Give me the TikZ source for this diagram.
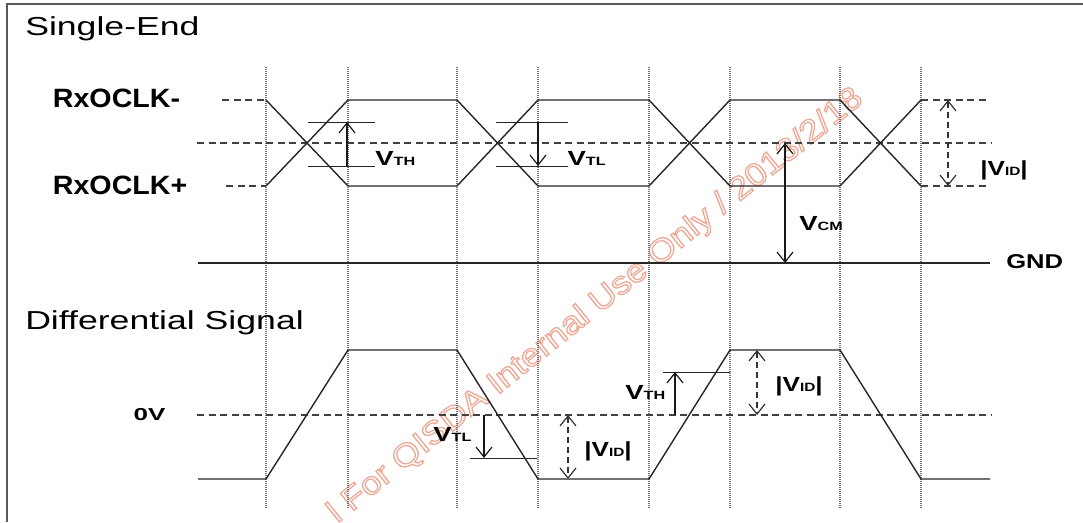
\documentclass[tikz,border=0pt]{standalone}
\usepackage{fontspec}
\setmainfont{Liberation Sans}
\usetikzlibrary{arrows.meta}
\definecolor{wmc}{RGB}{236,168,148}
\newcommand\Vsub[1]{{\fontsize{20.4}{20}\selectfont V}{\fontsize{12}{12}\selectfont #1}}
\newcommand\Vidlab{{\fontsize{20.4}{20}\selectfont |V}{\fontsize{12}{12}\selectfont ID}{\fontsize{20.4}{20}\selectfont |}}
\tikzset{
  sig/.style={line width=1.4pt, draw=black!85, line join=round},
  dsh/.style={line width=1.1pt, draw=black!75, dash pattern=on 7pt off 4.5pt},
  vgrid/.style={line width=1.1pt, draw=black!55, dash pattern=on 1pt off 1pt},
  thr/.style={line width=1pt, draw=black!85},
  arr/.style={line width=1.3pt, draw=black!90, -{Straight Barb[length=10pt,width=16pt,line width=1.2pt]}},
  darr/.style={line width=1.3pt, draw=black!80, dash pattern=on 6pt off 4pt,
    {Straight Barb[length=10pt,width=16pt,line width=1.2pt]}-{Straight Barb[length=10pt,width=16pt,line width=1.2pt]}},
  sarr/.style={line width=1.3pt, draw=black!90,
    {Straight Barb[length=10pt,width=16pt,line width=1.2pt]}-{Straight Barb[length=10pt,width=16pt,line width=1.2pt]}},
  head/.style={inner sep=0pt, anchor=base west, font=\fontsize{26}{26}\selectfont, xscale=1.37},
  blab/.style={inner sep=0pt, anchor=base west, font=\bfseries\fontsize{26.5}{26.5}\selectfont, xscale=1.08},
  vlab/.style={inner sep=0pt, anchor=base west, font=\bfseries, xscale=1.35},
  wm/.style={inner sep=0pt, anchor=center, text=wmc, font=\fontsize{32}{32}\selectfont, rotate=38.7, xscale=1.13},
}
\begin{document}
\begin{tikzpicture}[x=1pt,y=-1pt]
\useasboundingbox (0,0) rectangle (1083,522);
% watermark (behind the drawing)
\node[wm] (wmark) at (596,306) {\special{pdf:literal direct 1 Tr 1.2 w}l For QISDA Internal Use Only / 2013/2/18\special{pdf:literal direct 0 Tr}};
% frame
\coordinate (fb) at (7,522); \coordinate (ftl) at (7,4); \coordinate (ftr) at (1083,4);
\draw[line width=2pt, black!65] (fb) -- (ftl) -- (ftr);
% vertical dotted grid
\foreach \x [count=\i] in {266,348,457,538,649,730,840,921}{
  \coordinate (g\i t) at (\x,67); \coordinate (g\i b) at (\x,508);
  \draw[vgrid] (g\i t) -- (g\i b);
}
% headings and labels
\node[head] (se) at (25,35) {Single-End};
\node[head] (ds) at (25,329) {Differential Signal};
\node[blab] (rxm) at (52.7,107) {RxOCLK-};
\node[blab] (rxp) at (52.7,194.3) {RxOCLK+};
\node[inner sep=0pt, anchor=base west, font=\bfseries\fontsize{20}{20}\selectfont, xscale=1.28] (gnd) at (1006,268.3) {GND};
\node[inner sep=0pt, anchor=base west, font=\bfseries\fontsize{17.3}{17.3}\selectfont, xscale=1.5] (zv) at (133.3,420.7) {0V};
% ---- single-ended section ----
\coordinate (mid0) at (197,143); \coordinate (mid1) at (992,143);
\draw[dsh] (mid0) -- (mid1);
\coordinate (gnd0) at (198,263); \coordinate (gnd1) at (990,263);
\draw[sig] (gnd0) -- (gnd1);
% RxOCLK-
\coordinate (a0) at (222,100); \coordinate (a1) at (266,100); \coordinate (a2) at (348,186);
\coordinate (a3) at (457,186); \coordinate (a4) at (538,100); \coordinate (a5) at (649,100);
\coordinate (a6) at (730,186); \coordinate (a7) at (840,186); \coordinate (a8) at (921,100);
\coordinate (a9) at (987,100);
\draw[dsh] (a0) -- (a1);
\draw[sig] (a1) -- (a2) -- (a3) -- (a4) -- (a5) -- (a6) -- (a7) -- (a8);
\draw[dsh] (a8) -- (a9);
% RxOCLK+
\coordinate (b0) at (226,186); \coordinate (b1) at (266,186); \coordinate (b2) at (348,100);
\coordinate (b3) at (457,100); \coordinate (b4) at (538,186); \coordinate (b5) at (649,186);
\coordinate (b6) at (730,100); \coordinate (b7) at (840,100); \coordinate (b8) at (921,186);
\coordinate (b9) at (987,186);
\draw[dsh] (b0) -- (b1);
\draw[sig] (b1) -- (b2) -- (b3) -- (b4) -- (b5) -- (b6) -- (b7) -- (b8);
\draw[dsh] (b8) -- (b9);
% VTH (top)
\coordinate (th1a) at (308,122); \coordinate (th1b) at (375,122);
\coordinate (th2a) at (308,166); \coordinate (th2b) at (375,166);
\draw[thr] (th1a) -- (th1b); \draw[thr] (th2a) -- (th2b);
\coordinate (tha0) at (347,166); \coordinate (tha1) at (347,122);
\draw[arr] (tha0) -- (tha1);
\node[vlab] (vth1) at (375,165.3) {\Vsub{TH}};
% VTL (top)
\coordinate (tl1a) at (496,122); \coordinate (tl1b) at (568,122);
\coordinate (tl2a) at (496,166); \coordinate (tl2b) at (568,166);
\draw[thr] (tl1a) -- (tl1b); \draw[thr] (tl2a) -- (tl2b);
\coordinate (tla0) at (538,122); \coordinate (tla1) at (538,166);
\draw[arr] (tla0) -- (tla1);
\node[vlab] (vtl1) at (567.3,165.3) {\Vsub{TL}};
% VCM
\coordinate (cm0) at (785,143); \coordinate (cm1) at (785,263);
\draw[sarr] (cm0) -- (cm1);
\node[vlab] (vcm) at (799,230) {\Vsub{CM}};
% VID (top)
\coordinate (id0) at (948,100); \coordinate (id1) at (948,186);
\draw[darr] (id0) -- (id1);
\node[vlab, xscale=0.95] (vid1) at (980,175.7) {\Vidlab};
% ---- differential section ----
\coordinate (z0) at (197,415); \coordinate (z1) at (992,415);
\draw[dsh] (z0) -- (z1);
\coordinate (d0) at (198,479); \coordinate (d1) at (266,479); \coordinate (d2) at (348,350);
\coordinate (d3) at (457,350); \coordinate (d4) at (538,479); \coordinate (d5) at (649,479);
\coordinate (d6) at (730,350); \coordinate (d7) at (840,350); \coordinate (d8) at (921,479);
\coordinate (d9) at (990,479);
\draw[sig] (d0) -- (d1) -- (d2) -- (d3) -- (d4) -- (d5) -- (d6) -- (d7) -- (d8) -- (d9);
% VTL (bottom)
\coordinate (btl0) at (470,458); \coordinate (btl1) at (537,458);
\draw[thr] (btl0) -- (btl1);
\coordinate (btla0) at (484,415); \coordinate (btla1) at (484,458);
\draw[arr] (btla0) -- (btla1);
\node[vlab] (vtl2) at (433,441.7) {\Vsub{TL}};
% VTH (bottom)
\coordinate (bth0) at (663,372); \coordinate (bth1) at (730,372);
\draw[thr] (bth0) -- (bth1);
\coordinate (btha0) at (675,415); \coordinate (btha1) at (675,372);
\draw[arr] (btha0) -- (btha1);
\node[vlab] (vth2) at (625,399.3) {\Vsub{TH}};
% VID (bottom)
\coordinate (bid0) at (568,415); \coordinate (bid1) at (568,479);
\draw[darr] (bid0) -- (bid1);
\node[vlab, xscale=0.95] (vid2) at (584,456.7) {\Vidlab};
\coordinate (cid0) at (757,350); \coordinate (cid1) at (757,415);
\draw[darr] (cid0) -- (cid1);
\node[vlab, xscale=0.95] (vid3) at (775,391.7) {\Vidlab};
\end{tikzpicture}
\end{document}
